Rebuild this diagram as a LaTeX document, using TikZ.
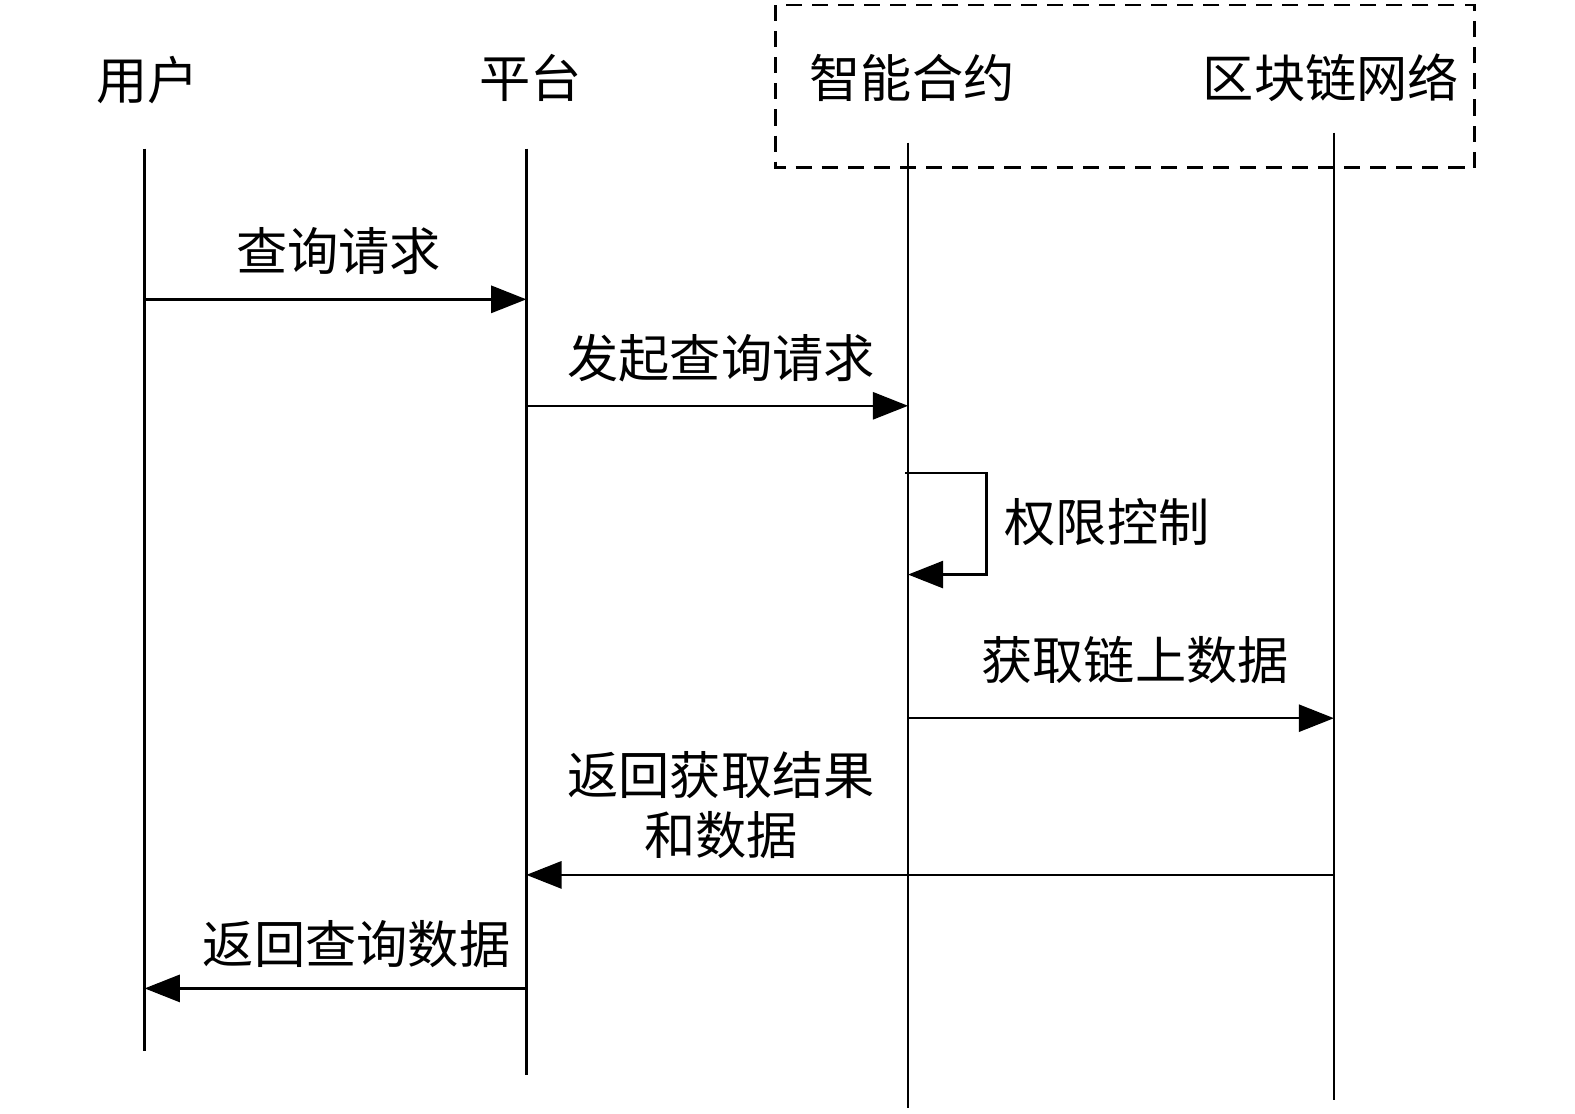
\documentclass[tikz,border=0pt]{standalone}
\usepackage{fontspec}
\newfontfamily\cjk{Noto Sans CJK SC}
\usetikzlibrary{arrows.meta}
\begin{document}
\begin{tikzpicture}[x=1pt,y=-1pt,
  lbl/.style={font=\cjk\fontsize{51pt}{60pt}\selectfont, inner sep=0pt, anchor=base},
  life/.style={line width=2.5pt},
  msg/.style={line width=2.5pt, -{Triangle[length=35pt,width=27pt]}},
  grp/.style={line width=2.5pt, dash pattern=on 16pt off 10pt}]
\useasboundingbox (0,0) rectangle (1568,1109);
\fill[white] (0,0) rectangle (1568,1109);
% group box
\draw[grp] (772,5) rectangle (1468,167);
% headers
\node[lbl] (hu) at (147,99) {用户};
\node[lbl] (hp) at (528,97) {平台};
\node[lbl] (hc) at (908,97) {智能合约};
\node[lbl] (hb) at (1325,97) {区块链网络};
% lifelines
\coordinate (ut) at (144,148); \coordinate (ub) at (144,1046);
\coordinate (pt) at (524,148); \coordinate (pb) at (524,1070);
\coordinate (ct) at (904,142); \coordinate (cb) at (904,1103);
\coordinate (bt) at (1328,132); \coordinate (bb) at (1328,1095);
\draw[life] (ut) -- (ub);
\draw[life] (pt) -- (pb);
\draw[life] (ct) -- (cb);
\draw[life] (bt) -- (bb);
% message 1
\coordinate (m1a) at (144,298); \coordinate (m1b) at (524,298);
\draw[msg] (m1a) -- (m1b);
\node[lbl] (l1) at (337,269) {查询请求};
% message 2
\coordinate (m2a) at (524,404); \coordinate (m2b) at (904,404);
\draw[msg] (m2a) -- (m2b);
\node[lbl] (l2) at (718,376) {发起查询请求};
% self message
\coordinate (s1) at (901,471); \coordinate (s2) at (982,471);
\coordinate (s3) at (982,572); \coordinate (s4) at (904,572);
\draw[msg] (s1) -- (s2) -- (s3) -- (s4);
\node[lbl, anchor=base west] (l3) at (1000,539) {权限控制};
% message 3
\coordinate (m3a) at (904,715); \coordinate (m3b) at (1328,715);
\draw[msg] (m3a) -- (m3b);
\node[lbl] (l4) at (1130,676) {获取链上数据};
% message 4
\coordinate (m4a) at (1328,871); \coordinate (m4b) at (524,871);
\draw[msg] (m4a) -- (m4b);
\node[lbl] (l5a) at (718,791) {返回获取结果};
\node[lbl] (l5b) at (718,851) {和数据};
% message 5
\coordinate (m5a) at (524,984); \coordinate (m5b) at (144,984);
\draw[msg] (m5a) -- (m5b);
\node[lbl] (l6) at (355,959) {返回查询数据};
\end{tikzpicture}
\end{document}
